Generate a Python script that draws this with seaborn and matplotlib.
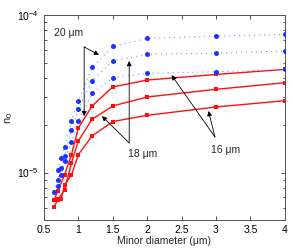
import numpy as np
import pandas as pd
import matplotlib
matplotlib.use("Agg")
import matplotlib.pyplot as plt
import seaborn as sns
from matplotlib.ticker import LogLocator, NullFormatter

# ---- data ----
blue20_x = [0.7, 0.75, 0.8, 0.9, 1.0, 1.2, 1.5, 2, 3, 4]
blue20_y = [1.04e-5, 1.24e-5, 1.46e-5, 2.13e-5, 2.86e-5, 4.66e-5, 6.33e-5, 7.12e-5, 7.36e-5, 7.54e-5]
blue18_x = [0.65, 0.7, 0.75, 0.8, 0.9, 1.0, 1.2, 1.5, 2, 3, 4]
blue18_y = [7.58e-6, 8.99e-6, 1.07e-5, 1.28e-5, 1.87e-5, 2.53e-5, 3.83e-5, 5.13e-5, 5.63e-5, 5.74e-5, 5.91e-5]
blue16_x = [0.7, 0.75, 0.8, 0.9, 1.0, 1.2, 1.5, 2, 3, 4]
blue16_y = [8.23e-6, 9.67e-6, 1.19e-5, 1.57e-5, 2.13e-5, 3.19e-5, 4.00e-5, 4.27e-5, 4.37e-5, 4.52e-5]

red20_x = [0.65, 0.7, 0.8, 0.9, 1.0, 1.2, 1.5, 2, 3, 4]
red20_y = [6.71e-6, 7.66e-6, 9.67e-6, 1.30e-5, 1.92e-5, 2.65e-5, 3.50e-5, 3.87e-5, 4.20e-5, 4.52e-5]
red18_x = [0.65, 0.7, 0.8, 0.9, 1.0, 1.2, 1.5, 2, 3, 4]
red18_y = [6.06e-6, 6.71e-6, 7.77e-6, 1.15e-5, 1.59e-5, 2.18e-5, 2.65e-5, 3.02e-5, 3.38e-5, 3.72e-5]
red16_x = [0.7, 0.75, 0.8, 0.9, 1.0, 1.2, 1.5, 2, 3, 4]
red16_y = [6.81e-6, 6.81e-6, 8.36e-6, 9.67e-6, 1.30e-5, 1.71e-5, 2.11e-5, 2.31e-5, 2.61e-5, 2.86e-5]

x_ticks = [0.5, 1, 1.5, 2, 2.5, 3, 3.5, 4]
x_label = "Minor diameter (μm)"
y_label = "n$_0$"
labels = ["20 μm", "18 μm", "16 μm"]

# ---- style ----
sns.set_style("ticks")
plt.rcParams["font.family"] = ["Liberation Sans", "DejaVu Sans"]
plt.rcParams["mathtext.default"] = "regular"
plt.rcParams["font.size"] = 7.5

fig = plt.figure(figsize=(2.93, 2.52), dpi=100)
ax = fig.add_axes([0.150, 0.127, 0.822, 0.813])

BLUE = "#1a33ff"
BLUE_LINE = "#7f8fff"
RED = "#ff1010"

for xs, ys in [(red20_x, red20_y), (red18_x, red18_y), (red16_x, red16_y)]:
    sns.lineplot(x=xs, y=ys, ax=ax, color=RED, linestyle="-", lw=1.0,
                 marker="s", markersize=3.2, markeredgewidth=0,
                 estimator=None, sort=False, zorder=2)
for xs, ys in [(blue20_x, blue20_y), (blue18_x, blue18_y), (blue16_x, blue16_y)]:
    sns.lineplot(x=xs, y=ys, ax=ax, color=BLUE_LINE, linestyle=(0, (1, 3.5)), lw=0.8,
                 estimator=None, sort=False, zorder=3)
    sns.scatterplot(x=xs, y=ys, ax=ax, color=BLUE, s=13, linewidth=0, zorder=4)

ax.set_yscale("log")
ax.set_xlim(0.5, 4)
ax.set_ylim(5e-6, 1e-4)
ax.set_xticks(x_ticks)
ax.set_xticklabels([f"{t:g}" for t in x_ticks])
ax.yaxis.set_major_locator(LogLocator(base=10, numticks=5))
ax.yaxis.set_minor_locator(LogLocator(base=10, subs=np.arange(2, 10), numticks=20))
ax.yaxis.set_minor_formatter(NullFormatter())

ax.tick_params(which="both", direction="in", top=True, right=True, colors="#333333",
               labelcolor="black", labelsize=7.5, width=0.6)
ax.tick_params(which="major", length=3)
ax.tick_params(which="minor", length=1.8)
for s in ax.spines.values():
    s.set_linewidth(0.7)
    s.set_color("#555555")

ax.set_xlabel(x_label, fontsize=7.5, labelpad=1)
ax.set_ylabel(y_label, fontsize=8)
ax.yaxis.set_label_coords(-0.12, 0.5)

# ---- annotations ----
arrow = dict(arrowstyle="-|>", color="black", lw=0.6, mutation_scale=7, shrinkA=0, shrinkB=0)
ann = [
    (labels[0], (0.102, 0.912), (0.167, 0.845), [(0.2285, 0.805), (0.167, 0.507)]),
    (labels[1], (0.411, 0.322), (0.354, 0.376), [(0.241, 0.507), (0.354, 0.776)]),
    (labels[2], (0.756, 0.341), (0.710, 0.405), [(0.530, 0.707), (0.683, 0.532)]),
]
for text, tpos, origin, tips in ann:
    ax.text(*tpos, text, transform=ax.transAxes, ha="center", va="center", fontsize=7.5)
    for tip in tips:
        ax.annotate("", xy=tip, xytext=origin, xycoords="axes fraction",
                    textcoords="axes fraction", arrowprops=arrow)

fig.savefig("out.png", dpi=100)
